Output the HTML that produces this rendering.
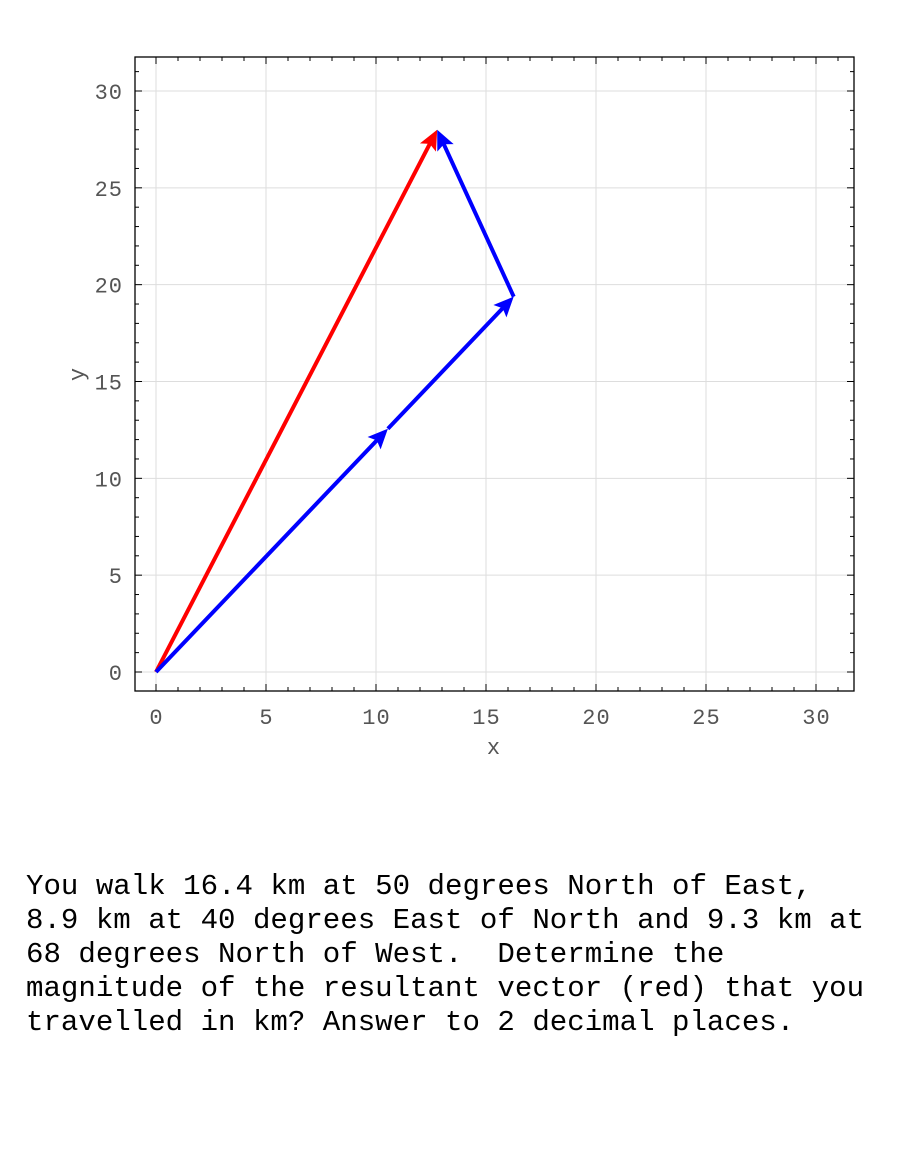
<!DOCTYPE html>
<html><head><meta charset="utf-8"><style>
body{margin:0;background:#fff;width:900px;height:1149px;overflow:hidden;}
.t{position:absolute;left:26px;top:870px;font-family:"Liberation Mono",monospace;font-size:29.1px;line-height:34px;white-space:pre;color:#000;}
</style></head><body>
<svg id="s" width="900" height="1149" style="position:absolute;left:0;top:0" xmlns="http://www.w3.org/2000/svg"></svg>
<div class="t">You walk 16.4 km at 50 degrees North of East,
8.9 km at 40 degrees East of North and 9.3 km at
68 degrees North of West.  Determine the
magnitude of the resultant vector (red) that you
travelled in km? Answer to 2 decimal places.</div>
<script>
const L=135,R=854,T=57,B=691;
const X=v=>156+22*v, Y=v=>672-19.367*v;
let h='';
for(let v=0;v<=30;v+=5){
 h+=`<line x1="${X(v)}" y1="${T}" x2="${X(v)}" y2="${B}" stroke="#ddd" stroke-width="1"/>`;
 h+=`<line x1="${L}" y1="${Y(v)}" x2="${R}" y2="${Y(v)}" stroke="#ddd" stroke-width="1"/>`;
}
for(let v=-1;v<=31;v++){
 let len=v%5==0?7:4;
 let x=X(v); if(x>L&&x<R){
 h+=`<line x1="${x}" y1="${B}" x2="${x}" y2="${B-len}" stroke="#000"/>`;
 h+=`<line x1="${x}" y1="${T}" x2="${x}" y2="${T+len}" stroke="#000"/>`;}
 let y=Y(v); if(y>T&&y<B){
 h+=`<line x1="${L}" y1="${y}" x2="${L+len}" y2="${y}" stroke="#000"/>`;
 h+=`<line x1="${R}" y1="${y}" x2="${R-len}" y2="${y}" stroke="#000"/>`;}
}
h+=`<rect x="${L}" y="${T}" width="${R-L}" height="${B-T}" fill="none" stroke="#000" stroke-width="1.3"/>`;
const F='font-family="Liberation Mono,monospace" font-size="22" fill="#555" letter-spacing="1"';
for(let v=0;v<=30;v+=5){
 h+=`<text x="${X(v)+0.5}" y="724" text-anchor="middle" ${F}>${v}</text>`;
 h+=`<text x="123" y="${Y(v)+8}" text-anchor="end" ${F}>${v}</text>`;
}
h+=`<text x="494" y="754" text-anchor="middle" ${F}>x</text>`;
h+=`<text x="84" y="374" text-anchor="middle" ${F} transform="rotate(-90 84 374)">y</text>`;
function arrow(x0,y0,x1,y1,c){
 const a=X(x0),b=Y(y0),c2=X(x1),d=Y(y1);
 const dx=c2-a,dy=d-b,l=Math.hypot(dx,dy),ux=dx/l,uy=dy/l,px=-uy,py=ux;
 const hl=20,hw=9;
 const bx=c2-ux*hl,by=d-uy*hl;
 let s=`<line x1="${a}" y1="${b}" x2="${c2-ux*10}" y2="${d-uy*10}" stroke="${c}" stroke-width="4"/>`;
 s+=`<polygon points="${c2},${d} ${bx+px*hw},${by+py*hw} ${c2-ux*16},${d-uy*16} ${bx-px*hw},${by-py*hw}" fill="${c}"/>`;
 return s;
}
const p1=[10.54,12.56],p2=[16.26,19.38],p3=[12.78,28.0];
h+=arrow(0,0,p3[0],p3[1],'#f00');
h+=arrow(0,0,p1[0],p1[1],'#00f');
h+=arrow(p1[0],p1[1],p2[0],p2[1],'#00f');
h+=arrow(p2[0],p2[1],p3[0],p3[1],'#00f');
document.getElementById('s').innerHTML=h;
</script>
</body></html>
